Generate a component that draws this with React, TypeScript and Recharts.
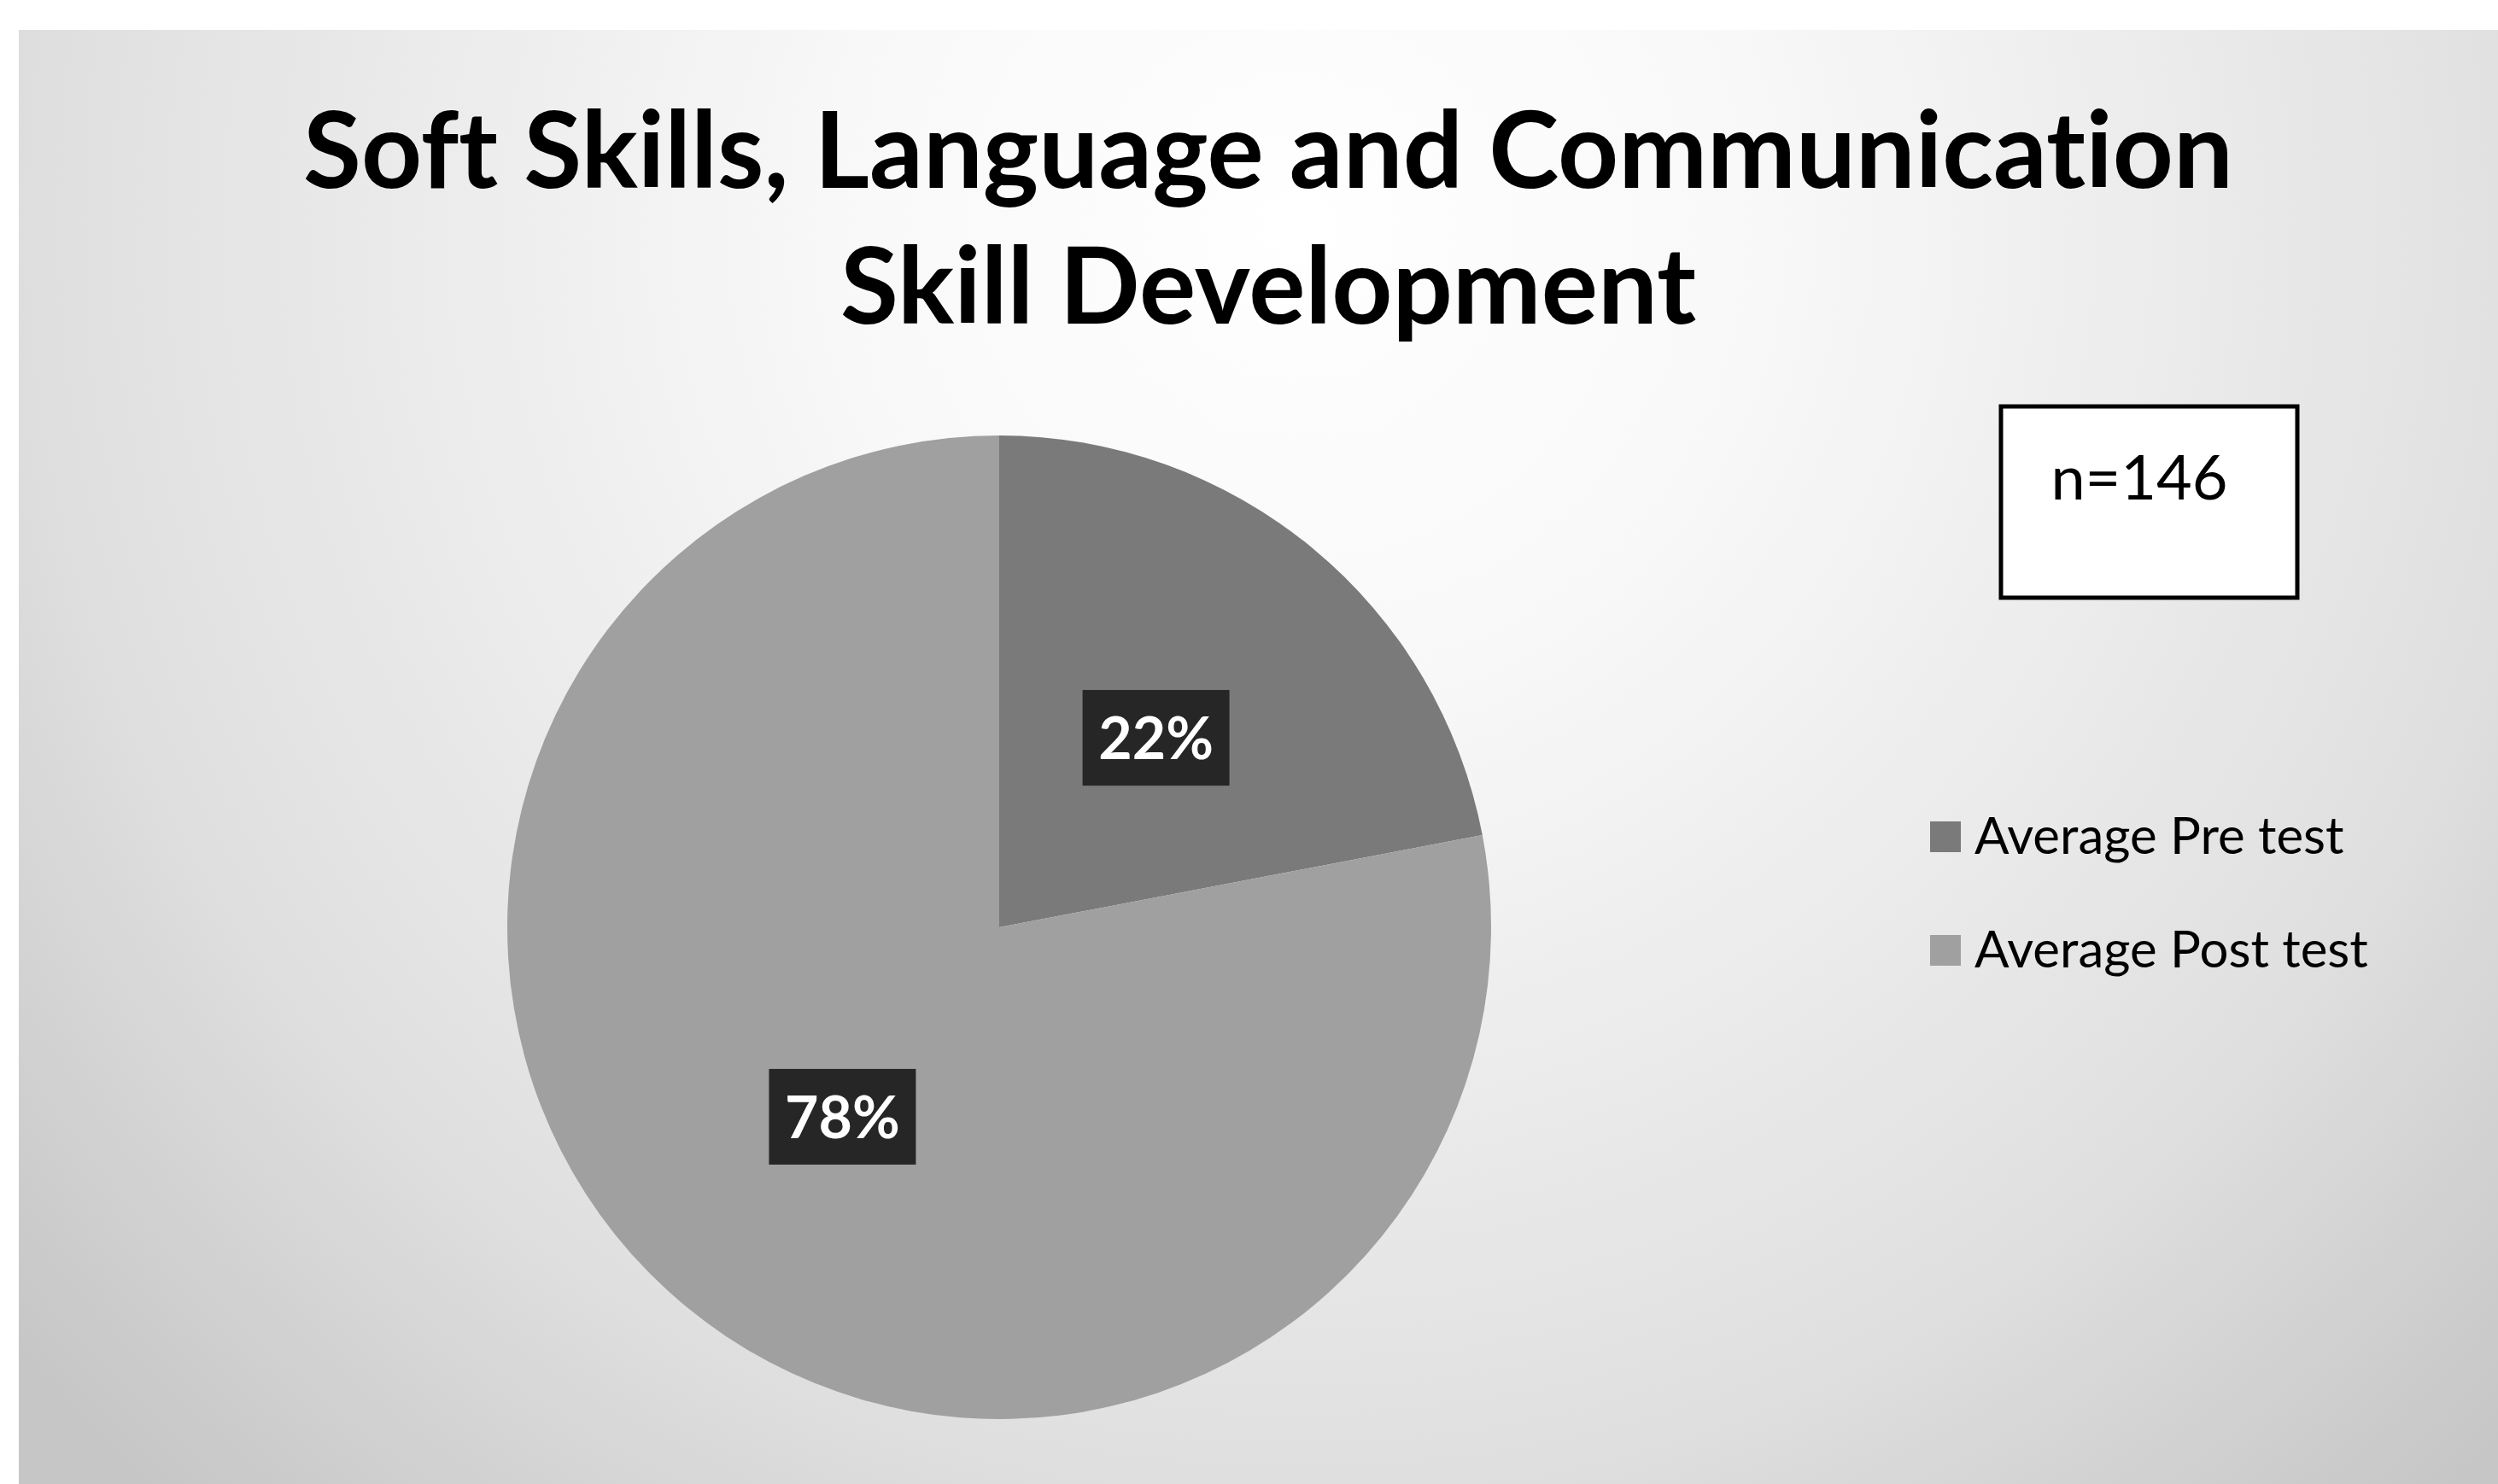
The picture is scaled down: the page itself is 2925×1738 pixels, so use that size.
import { PieChart, Pie, Cell, Legend } from 'recharts';

const categories = ['Average Pre test', 'Average Post test'];
const shares = [22, 78];
const sliceColors = ['#7a7a7a', '#a0a0a0'];
const titleLines = ['Soft Skills, Language and Communication', 'Skill Development'];
const sampleNote = 'n=146';

const pieData = categories.map((name, i) => ({ name, value: shares[i] }));

const W = 2925;
const H = 1738;
const noLig = { fontVariantLigatures: 'none', fontFeatureSettings: '"liga" 0' } as any;

function PctLabel(props: any) {
  const { cx, cy, midAngle, outerRadius, percent } = props;
  const rad = Math.PI / 180;
  const r = outerRadius * 0.5;
  const x = cx + r * Math.cos(-midAngle * rad);
  const y = cy + r * Math.sin(-midAngle * rad);
  return (
    <g>
      <rect x={x - 86} y={y - 56} width={172} height={112} fill="#262626" />
      <text
        x={x}
        y={y + 25}
        textAnchor="middle"
        fill="#ffffff"
        fontFamily="Lato"
        fontWeight={700}
        fontSize={68}
      >
        {`${Math.round(percent * 100)}%`}
      </text>
    </g>
  );
}

function LegendBox(props: any) {
  const items = [...(props.payload || [])].sort(
    (a: any, b: any) => categories.indexOf(a.value) - categories.indexOf(b.value)
  );
  return (
    <svg width={580} height={220} style={{ display: 'block' }}>
      {items.map((it: any, i: number) => (
        <g key={it.value}>
          <rect x={5} y={22 + i * 133} width={36} height={36} fill={it.color} />
          <text x={57} y={60 + i * 133} fontFamily="Lato" fontSize={60} fill="#000">
            {it.value}
          </text>
        </g>
      ))}
    </svg>
  );
}

export default function App() {
  return (
    <div style={{ position: 'absolute', left: 0, top: 0, width: W, height: H, background: '#ffffff', overflow: 'hidden' }}>
      <style>{'body{margin:0}'}</style>
      <div
        style={{
          position: 'absolute',
          left: 22,
          top: 35,
          width: W - 22,
          height: H - 35,
          background:
            'radial-gradient(circle at 1500px 230px, #ffffff 0px, #f8f8f8 550px, #e0e0e0 1450px, #c6c6c6 2000px)',
        }}
      />
      <div style={{ position: 'absolute', left: 0, top: 0 }}>
        <PieChart width={W} height={H} margin={{ top: 0, right: 0, bottom: 0, left: 0 }}>
          <Pie
            data={pieData}
            dataKey="value"
            nameKey="name"
            cx={1170}
            cy={1086}
            outerRadius={576}
            startAngle={90}
            endAngle={-270}
            stroke="none"
            label={PctLabel}
            labelLine={false}
            isAnimationActive={false}
          >
            {pieData.map((d, i) => (
              <Cell key={d.name} fill={sliceColors[i]} />
            ))}
          </Pie>
          <Legend
            layout="vertical"
            align="right"
            verticalAlign="top"
            content={LegendBox}
            wrapperStyle={{ left: 2255, top: 940, right: 'auto', width: 580 }}
          />
        </PieChart>
      </div>
      <svg width={W} height={H} style={{ position: 'absolute', left: 0, top: 0, pointerEvents: 'none' }}>
        {titleLines.map((t, i) => (
          <text
            key={t}
            x={1485}
            y={220 + i * 159}
            textAnchor="middle"
            fontFamily="Lato"
            fontWeight={700}
            fontSize={124}
            fill="#000"
            style={noLig}
          >
            {t}
          </text>
        ))}
        <rect x={2343} y={476} width={347} height={224} fill="#ffffff" stroke="#000" strokeWidth={5} />
        <text x={2505} y={585} textAnchor="middle" fontFamily="Lato" fontSize={72} fill="#000">
          {sampleNote}
        </text>
      </svg>
    </div>
  );
}
